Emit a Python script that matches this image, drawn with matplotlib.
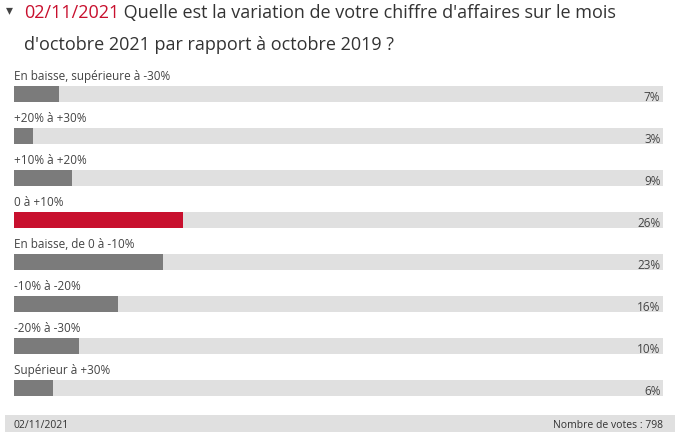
import matplotlib
matplotlib.use("Agg")
import matplotlib.pyplot as plt

plt.rcParams['font.family'] = ['Open Sans', 'DejaVu Sans']

categories = [
    "En baisse, supérieure à -30%",
    "+20% à +30%",
    "+10% à +20%",
    "0 à +10%",
    "En baisse, de 0 à -10%",
    "-10% à -20%",
    "-20% à -30%",
    "Supérieur à +30%",
]
values = [7, 3, 9, 26, 23, 16, 10, 6]
highlight = 3
date_text = "02/11/2021"
title_rest = " Quelle est la variation de votre chiffre d'affaires sur le mois"
title_line2 = "d'octobre 2021 par rapport à octobre 2019 ?"
footer_right = "Nombre de votes : 798"

W, H = 677, 439
fig = plt.figure(figsize=(W / 100, H / 100), dpi=100)
fig.patch.set_facecolor("white")

# bar axes
left_px, right_px, top_px, bot_px = 14, 663, 74, 410
ax = fig.add_axes([left_px / W, 1 - bot_px / H, (right_px - left_px) / W, (bot_px - top_px) / H])
n = len(categories)
ys = list(range(n))
ax.barh(ys, [100] * n, height=0.36, color="#e0e0e0", zorder=1)
colors = ["#c8102e" if i == highlight else "#7b7b7b" for i in range(n)]
ax.barh(ys, values, height=0.36, color=colors, zorder=2)
for i, (c, v) in enumerate(zip(categories, values)):
    ax.text(0, i - 0.45, c, fontsize=8.5, color="#444444", va="center", ha="left")
    ax.text(99.6, i + 0.05, f"{v}%", fontsize=8.5, color="#444444", va="center", ha="right", zorder=3)
ax.set_xlim(0, 100)
ax.set_ylim(n - 0.5, -0.5)
ax.axis("off")

# title
fig.text(6 / W, 1 - 11 / H, "▾", fontsize=10, color="#444444", va="center", ha="left")
t1 = fig.text(24 / W, 1 - 13 / H, date_text, fontsize=13, color="#c8102e", va="center", ha="left")
fig.canvas.draw()
bb = t1.get_window_extent()
fig.text(bb.x1 / W, 1 - 13 / H, title_rest, fontsize=13, color="#333333", va="center", ha="left")
fig.text(24 / W, 1 - 45 / H, title_line2, fontsize=13, color="#333333", va="center", ha="left")

# footer
fax = fig.add_axes([5 / W, 1 - 433 / H, (675 - 5) / W, 17 / H])
fax.set_facecolor("#e0e0e0")
fax.set_xticks([]); fax.set_yticks([])
for s in fax.spines.values():
    s.set_visible(False)
fax.text(9 / 670, 0.45, date_text, fontsize=7.5, color="#333333", va="center", ha="left", transform=fax.transAxes)
fax.text(658 / 670, 0.45, footer_right, fontsize=7.5, color="#333333", va="center", ha="right", transform=fax.transAxes)

fig.savefig("out.png", dpi=100, facecolor="white")
